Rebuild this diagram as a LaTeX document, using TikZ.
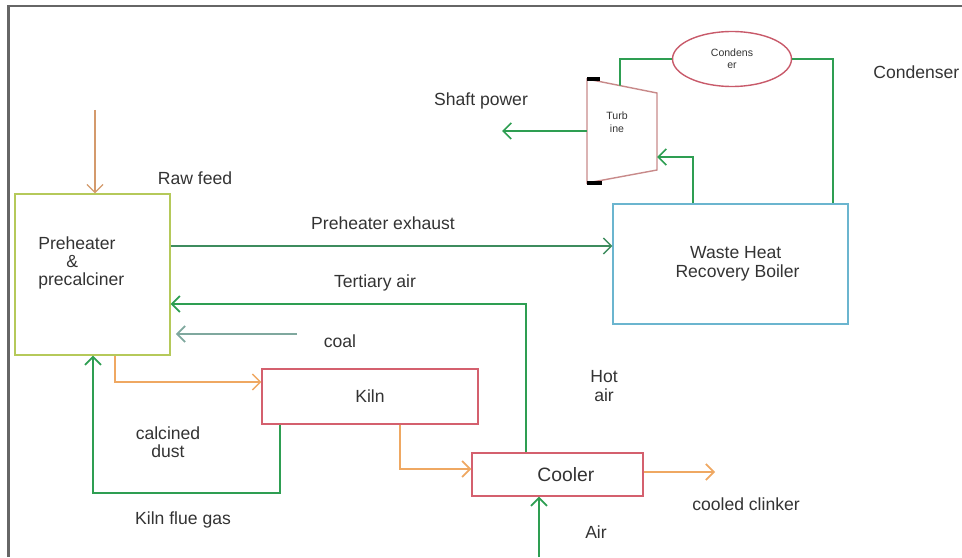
\documentclass[tikz,border=0pt]{standalone}
\usepackage{fontspec}
\setmainfont{Liberation Sans}
\usetikzlibrary{calc, arrows.meta, shapes.geometric}

\definecolor{framegray}{HTML}{666666}
\definecolor{flowgreen}{HTML}{2E9E52}
\definecolor{exhgreen}{HTML}{3E8C5E}
\definecolor{coalteal}{HTML}{7FA89E}
\definecolor{feedorange}{HTML}{EFA862}
\definecolor{rawbrown}{HTML}{D49A6C}
\definecolor{preline}{HTML}{B5C95A}
\definecolor{kilnred}{HTML}{D4606E}
\definecolor{turbred}{HTML}{C88A8A}
\definecolor{condred}{HTML}{C85A6A}
\definecolor{boilerblue}{HTML}{6BB5CF}

\begin{document}
\begin{tikzpicture}[x=0.02cm, y=-0.02cm,
  plant/.style={draw, line width=0.8pt, inner sep=0pt},
  flow/.style={line width=1pt, -{Straight Barb[length=1.6mm]}},
  lbl/.style={inner sep=0pt, align=center, text=black!80}]
  \useasboundingbox (0,0) rectangle (962,557);
  % frame of the figure
  \draw[framegray, line width=1.7pt] (8.5,557) -- (8.5,6) -- (962,6);

  % units
  \node[plant, draw=preline, minimum width=3.1cm, minimum height=3.22cm] (pre) at (92.5,274.5) {};
  \node[lbl, align=left, anchor=west, font=\fontsize{10}{10.5}\selectfont] (pretxt) at (38,263)
    {Preheater\\\hspace*{16pt}\&\\precalciner};
  \node[plant, draw=kilnred, minimum width=4.32cm, minimum height=1.1cm, text=black!80] (kiln) at (370,396.5) {Kiln};
  \node[plant, draw=kilnred, minimum width=3.42cm, minimum height=0.86cm, text=black!80,
    font=\fontsize{11}{12}\selectfont] (cooler) at (557.5,474.5) {\hspace*{9.5pt}Cooler};
  \node[plant, draw=boilerblue, minimum width=4.7cm, minimum height=2.4cm, align=center,
    text=black!80, font=\fontsize{10}{10.5}\selectfont] (whrb) at (730.5,264) {\hspace*{6pt}Waste Heat\\\hspace*{8pt}Recovery Boiler};
  \node[plant, ellipse, draw=condred, minimum width=2.38cm, minimum height=1.1cm, align=center,
    text=black!80, font=\fontsize{6}{7}\selectfont] (cond) at (732,59) {Condens\\er};

  % turbine
  \coordinate (ta) at (587,79);
  \coordinate (tb) at (657,93);
  \coordinate (tc) at (657,170);
  \coordinate (td) at (587,183);
  \draw[turbred, line width=0.8pt] (ta) -- (tb) -- (tc) -- (td) -- cycle;
  \draw[line width=1.8pt] (ta) -- ++(13,0);
  \draw[line width=1.8pt] (td) -- ++(15,0);
  \node[lbl, font=\fontsize{6}{7.5}\selectfont] (turb) at (617,122) {Turb\\ine};

  % flows of the kiln line
  \coordinate (rawin) at (95,110);
  \draw[flow, rawbrown, line width=0.7pt] (rawin) -- (rawin |- pre.north);
  \coordinate (exh) at (170,246);
  \draw[flow, exhgreen, line width=0.8pt] (pre.east |- exh) -- (whrb.west |- exh);
  \coordinate (tert) at (526,304);
  \draw[flow, flowgreen] (cooler.north -| tert) -- (tert) -- (pre.east |- tert);
  \coordinate (coalin) at (297,334);
  \draw[flow, coalteal, shorten >=3pt] (coalin) -- (pre.east |- coalin);
  \coordinate (p2k) at (115,382);
  \draw[flow, feedorange, line width=0.8pt] (pre.south -| p2k) -- (p2k) -- (kiln.west |- p2k);
  \coordinate (fg1) at (280,493);
  \coordinate (fg2) at (93,493);
  \draw[flow, flowgreen] (kiln.south -| fg1) -- (fg1) -- (fg2) -- (pre.south -| fg2);
  \coordinate (k2c) at (400,469);
  \draw[flow, feedorange] (kiln.south -| k2c) -- (k2c) -- (cooler.west |- k2c);
  \coordinate (clk) at (715,472);
  \draw[flow, feedorange] (cooler.east |- clk) -- (clk);
  \coordinate (airin) at (539,557);
  \draw[flow, flowgreen] (airin) -- (cooler.south -| airin);

  % steam cycle
  \coordinate (st) at (693,157);
  \draw[flow, flowgreen] (whrb.north -| st) -- (st) -- (tb |- st);
  \coordinate (sh) at (502,131);
  \draw[flow, flowgreen] (ta |- sh) -- (sh);
  \coordinate (cd1) at (620,59);
  \coordinate (cd2) at (833,59);
  \draw[flowgreen, line width=1pt] ($(ta)!0.47!(tb)$) -- (cd1) -- (cond.west);
  \draw[flowgreen, line width=1pt] (cond.east) -- (cd2) -- (whrb.north -| cd2);

  % labels
  \node[lbl] (rawlbl) at (195,178) {Raw feed};
  \node[lbl] (exhlbl) at (383,223) {Preheater exhaust};
  \node[lbl] (tertlbl) at (375,283) {Tertiary air};
  \node[lbl] (coallbl) at (340,341) {coal};
  \node[lbl, font=\fontsize{10}{10}\selectfont] (dustlbl) at (168,442) {calcined\\dust};
  \node[lbl] (fluelbl) at (183,520) {Kiln flue gas};
  \node[lbl, font=\fontsize{10}{11}\selectfont] (hotlbl) at (604,386) {Hot\\air};
  \node[lbl] (airlbl) at (596,532) {Air};
  \node[lbl] (clklbl) at (746,504) {cooled clinker};
  \node[lbl] (shlbl) at (481,101) {Shaft power};
  \node[lbl, anchor=west] (condlbl) at (873,72) {Condenser};
\end{tikzpicture}
\end{document}
